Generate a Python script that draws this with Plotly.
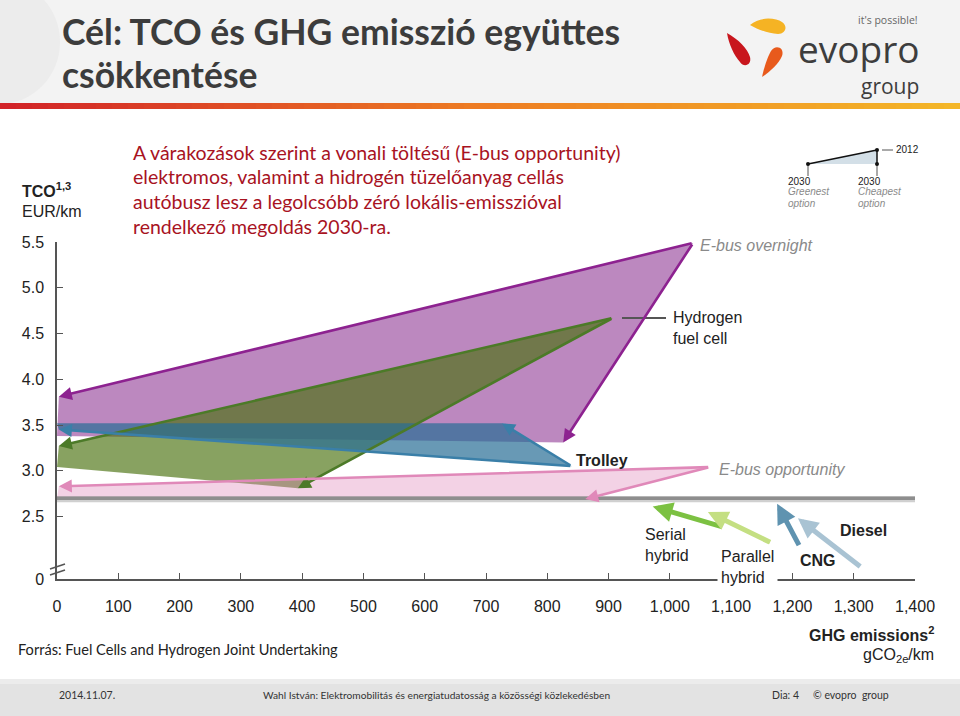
import plotly.graph_objects as go

W, H = 960, 716

# ---------------- data ----------------
tech_names = ["E-bus overnight", "Hydrogen fuel cell", "Trolley", "E-bus opportunity"]
ghg_2012 = [1038, 907, 840, 1065]
tco_2012 = [5.49, 4.67, 3.05, 3.04]
ghg_2030_greenest = [3, 3, 3, 3]
tco_2030_greenest = [3.81, 3.27, 3.45, 2.83]
tco_2030_greenest_edge = [3.38, 3.04, 3.52, 2.70]
ghg_2030_cheapest = [826, 393, 726, 862]
tco_2030_cheapest = [3.31, 2.81, 3.52, 2.69]

conv_names = ["Serial hybrid", "Parallel hybrid", "CNG", "Diesel"]
conv_ghg_from = [1087, 1166, 1212, 1313]
conv_tco_from = [2.385, 2.21, 2.17, 1.94]
conv_ghg_to = [972, 1062, 1175, 1209]
conv_tco_to = [2.61, 2.55, 2.64, 2.48]

baseline_ghg = [0, 1400]
baseline_tco = [2.70, 2.70]

AXIS_ZERO = 1.817  # position of the broken "0" on the TCO axis
x_tick_vals = [0, 100, 200, 300, 400, 500, 600, 700, 800, 900, 1000, 1100, 1200, 1300, 1400]
x_tick_text = ["0", "100", "200", "300", "400", "500", "600", "700", "800", "900",
               "1,000", "1,100", "1,200", "1,300", "1,400"]
y_tick_vals = [AXIS_ZERO, 2.5, 3.0, 3.5, 4.0, 4.5, 5.0, 5.5]
y_tick_text = ["0", "2.5", "3.0", "3.5", "4.0", "4.5", "5.0", "5.5"]

# ---------------- styles ----------------
tech_line = ["#8d2290", "#4c7a28", "#3a7fa8", "#e089b9"]
tech_fill = ["rgba(140,50,145,0.58)", "rgba(72,112,12,0.65)",
             "rgba(40,110,150,0.70)", "rgba(222,130,182,0.36)"]
conv_color = ["#7cc142", "#c4df82", "#5f93b0", "#a9c3d3"]

ARIAL = "Liberation Sans, Arial, sans-serif"
CAL = "Lato, Carlito, Calibri, sans-serif"


def px(x):
    return x / W


def py(y):
    return 1 - y / H


fig = go.Figure()

# filled areas
for i in range(len(tech_names)):
    xs = [ghg_2012[i], ghg_2030_greenest[i], 0, ghg_2030_cheapest[i]]
    ys = [tco_2012[i], tco_2030_greenest[i], tco_2030_greenest_edge[i], tco_2030_cheapest[i]]
    fig.add_trace(go.Scatter(x=xs, y=ys, mode="lines", fill="toself",
                             fillcolor=tech_fill[i], line=dict(width=0),
                             hoverinfo="skip", name=tech_names[i]))

# baseline
fig.add_trace(go.Scatter(x=baseline_ghg, y=[v - 0.012 for v in baseline_tco], mode="lines",
                         line=dict(color="rgba(120,120,120,0.35)", width=6),
                         hoverinfo="skip"))
fig.add_trace(go.Scatter(x=baseline_ghg, y=baseline_tco, mode="lines",
                         line=dict(color="#8e8e8e", width=3.5), hoverinfo="skip"))

annotations = []
shapes = []

# arrows 2012 -> 2030
for i in range(len(tech_names)):
    for hx, hy in [(ghg_2030_greenest[i], tco_2030_greenest[i]),
                   (ghg_2030_cheapest[i], tco_2030_cheapest[i])]:
        annotations.append(dict(x=hx, y=hy, ax=ghg_2012[i], ay=tco_2012[i],
                                xref="x", yref="y", axref="x", ayref="y",
                                showarrow=True, arrowhead=2, arrowsize=1.0,
                                arrowwidth=2.6, arrowcolor=tech_line[i], text=""))

# conventional arrows
for i in range(len(conv_names)):
    annotations.append(dict(x=conv_ghg_to[i], y=conv_tco_to[i],
                            ax=conv_ghg_from[i], ay=conv_tco_from[i],
                            xref="x", yref="y", axref="x", ayref="y",
                            showarrow=True, arrowhead=2, arrowsize=0.8,
                            arrowwidth=5, arrowcolor=conv_color[i], text=""))


def txt(x, y, text, size, color="#222222", family=ARIAL, xanchor="left", **kw):
    d = dict(x=px(x), y=py(y), xref="paper", yref="paper", text=text,
             showarrow=False, xanchor=xanchor, yanchor="middle",
             font=dict(size=size, color=color, family=family))
    d.update(kw)
    annotations.append(d)


# chart labels
txt(698, 246, "<i>E-bus overnight</i>", 16, "#8a8a8a")
txt(671, 328, "Hydrogen<br>fuel cell", 16, align="left")
txt(574, 460, "<b>Trolley</b>", 16)
txt(717, 469, "<i>E-bus opportunity</i>", 16, "#8a8a8a")
txt(643, 545, "Serial<br>hybrid", 16, align="left")
txt(717, 567, "Parallel<br>hybrid", 16, align="left", bgcolor="white", borderpad=3)
txt(798, 560, "<b>CNG</b>", 16)
txt(838, 530, "<b>Diesel</b>", 16)

shapes.append(dict(type="line", xref="paper", yref="paper",
                   x0=px(622), x1=px(666), y0=py(318), y1=py(318),
                   line=dict(color="#555555", width=2)))

# axis titles
txt(20, 190, "<b>TCO<sup>1,3</sup></b>", 16)
txt(20, 212, "EUR/km", 16)
txt(936, 634, "<b>GHG emissions<sup>2</sup></b>", 16, xanchor="right")
txt(936, 655, "gCO<sub>2e</sub>/km", 16, xanchor="right")

# axis break marks
for dy in (0, 6):
    shapes.append(dict(type="line", xref="paper", yref="paper",
                       x0=px(50), x1=px(65), y0=py(569 + dy), y1=py(564 + dy),
                       line=dict(color="#555555", width=1.5)))

# ---------- header ----------
shapes.append(dict(type="rect", xref="paper", yref="paper", layer="below",
                   x0=0, x1=1, y0=py(104), y1=1, fillcolor="#f3f3f3", line=dict(width=0)))
shapes.append(dict(type="circle", xref="paper", yref="paper", layer="below",
                   x0=px(-60), x1=px(60), y0=py(104), y1=py(-20), fillcolor="#ececec",
                   line=dict(width=0)))
# gradient bar
N = 60
c0, c1, c2 = (210, 35, 40), (238, 125, 35), (244, 182, 40)
for k in range(N):
    t = k / (N - 1)
    if t < 0.5:
        a, b, u = c0, c1, t / 0.5
    else:
        a, b, u = c1, c2, (t - 0.5) / 0.5
    col = "rgb(%d,%d,%d)" % tuple(int(a[j] + (b[j] - a[j]) * u) for j in range(3))
    shapes.append(dict(type="rect", xref="paper", yref="paper",
                       x0=k / N, x1=(k + 1) / N + 0.001, y0=py(109), y1=py(103),
                       fillcolor=col, line=dict(width=0)))

txt(60, 31, "<b>Cél: TCO és GHG emisszió együttes</b>", 35.5, "#3c3c3c", CAL)
txt(60, 74, "<b>csökkentése</b>", 35.5, "#3c3c3c", CAL)


def path(pts_cmds):
    out = []
    for cmd, pts in pts_cmds:
        s = cmd
        s += " ".join("%.5f,%.5f" % (px(a), py(b)) for a, b in pts)
        out.append(s)
    return " ".join(out) + " Z"


petals = [
    ([("M", [(750, 25)]), ("C", [(760, 16), (776, 18), (782, 22)]),
      ("C", [(788, 26), (786, 34), (778, 34)]), ("C", [(768, 33), (758, 30), (750, 25)])],
     "#f5b324"),
    ([("M", [(727, 33)]), ("C", [(738, 39), (748, 49), (750, 57)]),
      ("C", [(752, 65), (744, 68), (740, 62)]), ("C", [(734, 55), (729, 45), (727, 33)])],
     "#c8161d"),
    ([("M", [(762, 77)]), ("C", [(764, 68), (767, 58), (771, 51)]),
      ("C", [(775, 44), (785, 47), (782, 56)]), ("C", [(779, 63), (771, 71), (762, 77)])],
     "#e85a1c"),
]
for p, col in petals:
    shapes.append(dict(type="path", xref="paper", yref="paper", path=path(p),
                       fillcolor=col, line=dict(width=0)))

txt(919, 20, "it's possible!", 10.5, "#666666", "Open Sans, sans-serif", xanchor="right",
    borderpad=0)
txt(921, 48, "evopro", 37, "#3d3d3d", "Open Sans, sans-serif", xanchor="right",
    borderpad=0)
txt(920, 86, "group", 21, "#3d3d3d", "Open Sans, sans-serif", xanchor="right",
    borderpad=0)

# subtitle
sub_lines = ["A várakozások szerint a vonali töltésű (E-bus opportunity)",
             "elektromos, valamint a hidrogén tüzelőanyag cellás",
             "autóbusz lesz a legolcsóbb zéró lokális-emisszióval",
             "rendelkező megoldás 2030-ra."]
for k, line in enumerate(sub_lines):
    txt(131, 152 + 24.7 * k, line, 19.5, "#a8131f", CAL)

# mini key (top right)
shapes.append(dict(type="path", xref="paper", yref="paper",
                   path=path([("M", [(808, 164)]), ("L", [(877, 150)]), ("L", [(877, 164)])]),
                   fillcolor="#d3dfe7", line=dict(width=0)))
for (x0, y0, x1, y1, c, w) in [(808, 164, 877, 150, "#111111", 1.5),
                               (877, 150, 877, 164, "#111111", 1.5),
                               (808, 164, 808, 176, "#555555", 1),
                               (877, 164, 877, 176, "#555555", 1),
                               (882, 150, 893, 150, "#555555", 1)]:
    shapes.append(dict(type="line", xref="paper", yref="paper",
                       x0=px(x0), x1=px(x1), y0=py(y0), y1=py(y1),
                       line=dict(color=c, width=w)))
for (cx, cy) in [(808, 164), (877, 150), (877, 164)]:
    shapes.append(dict(type="circle", xref="paper", yref="paper",
                       x0=px(cx - 2), x1=px(cx + 2), y0=py(cy + 2), y1=py(cy - 2),
                       fillcolor="#111111", line=dict(width=0)))
txt(895, 150, "2012", 10, "#222222", borderpad=0)
for x0, word in [(787, "Greenest"), (857, "Cheapest")]:
    txt(x0, 181, "2030", 10, "#222222", borderpad=0)
    txt(x0, 192, "<i>%s</i>" % word, 10, "#8a8a8a", borderpad=0)
    txt(x0, 203, "<i>option</i>", 10, "#8a8a8a", borderpad=0)

# source
txt(16, 649, "Forrás: Fuel Cells and Hydrogen Joint Undertaking", 14.6, "#222222", CAL)

# footer
shapes.append(dict(type="rect", xref="paper", yref="paper", layer="below",
                   x0=0, x1=1, y0=0, y1=py(679), fillcolor="#e3e3e3", line=dict(width=0)))
shapes.append(dict(type="rect", xref="paper", yref="paper", layer="below",
                   x0=0, x1=1, y0=py(684), y1=py(679), fillcolor="#ececec", line=dict(width=0)))
txt(57, 695, "2014.11.07.", 10.5, "#333333", CAL)
txt(436, 695, "Wahl István: Elektromobilitás és energiatudatosság a közösségi közlekedésben",
    10.2, "#333333", CAL, xanchor="center")
txt(770, 695, "Dia: 4", 10.5, "#333333", CAL)
txt(811, 695, "© evopro  group", 10.5, "#333333", CAL)

fig.update_layout(
    width=W, height=H, autosize=False,
    margin=dict(l=0, r=0, t=0, b=0, pad=0, autoexpand=False),
    paper_bgcolor="white", plot_bgcolor="rgba(0,0,0,0)",
    showlegend=False, hovermode=False,
    annotations=annotations, shapes=shapes,
    xaxis=dict(domain=[px(57), px(915)], range=[0, 1400], showgrid=False, zeroline=False,
               automargin=False,
               showline=True, linecolor="#555555", linewidth=1.5,
               ticks="inside", ticklen=6, tickcolor="#555555", tickwidth=1.2,
               tickvals=x_tick_vals, ticktext=x_tick_text, ticklabelstandoff=12,
               tickfont=dict(family=ARIAL, size=16, color="#222222"), fixedrange=True),
    yaxis=dict(domain=[py(579), py(242)], range=[AXIS_ZERO, 5.5], showgrid=False,
               zeroline=False, automargin=False,
               showline=True, linecolor="#555555", linewidth=1.5,
               ticks="inside", ticklen=6, tickcolor="#555555", tickwidth=1.2,
               tickvals=y_tick_vals, ticktext=y_tick_text, ticklabelstandoff=8,
               tickfont=dict(family=ARIAL, size=16, color="#222222"), fixedrange=True),
)

fig.write_html("out.html", config={"displayModeBar": False},
               post_script="document.body.style.margin='0';"
                           "document.body.style.overflow='hidden';")
